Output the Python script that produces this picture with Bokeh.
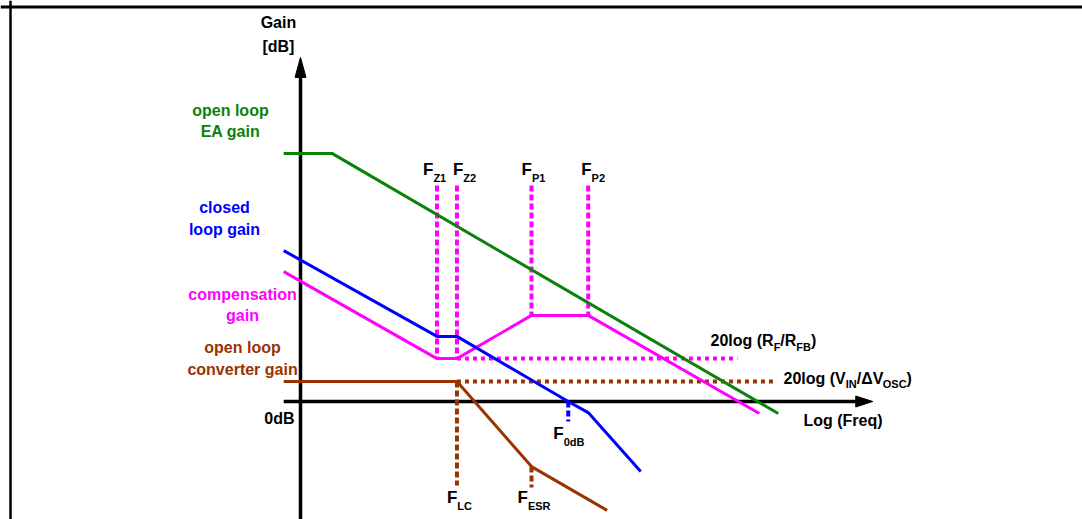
from bokeh.plotting import figure
from bokeh.models import Range1d, Span, Label
from bokeh.embed import file_html
from bokeh.resources import INLINE

# ---------------- chart values: log10(frequency) [decades], gain [dB] ----------------
# open loop error-amplifier gain
ea_f = [-0.16, 0.30, 4.55]
ea_db = [82.7, 82.7, -4.0]
# closed loop gain
cl_f = [-0.16, 1.30, 1.49, 2.55, 2.74, 3.24]
cl_db = [50.3, 21.7, 21.7, 0.0, -3.7, -23.3]
# compensation gain
comp_f = [-0.16, 1.30, 1.49, 2.20, 2.74, 4.37]
comp_db = [43.3, 14.3, 14.3, 28.7, 28.7, -4.0]
# open loop converter gain
conv_f = [-0.16, 1.49, 2.20, 2.92]
conv_db = [6.7, 6.7, -21.7, -36.3]

# asymptote levels
rf_level_f = [1.49, 4.16]
rf_level_db = 14.3          # 20log(RF/RFB)
vin_level_f = [1.49, 4.50]
vin_level_db = 6.7          # 20log(VIN/dVOSC)

# corner frequencies
comp_marker_f = [1.30, 1.49, 2.20, 2.74]       # FZ1, FZ2, FP1, FP2
comp_marker_bottom = [14.3, 14.3, 28.7, 28.7]
comp_marker_top = 72.0
comp_marker_sub = ["Z1", "Z2", "P1", "P2"]
conv_marker_f = [1.49, 2.20]                    # FLC, FESR
conv_marker_top = [6.7, -21.7]
conv_marker_bottom = [-28.0, -28.7]
conv_marker_sub = ["LC", "ESR"]
f0db = 2.55
f0db_bottom = -6.7

axis_f = [-0.16, 5.45]
axis_db = [-40.0, 114.7]

GREEN = "#0a820a"
BLUE = "#0000ff"
MAGENTA = "#ff00ff"
BROWN = "#993300"
FONT = "Liberation Sans"

# ---------------- layout ----------------
W, H = 1082, 519
PX_DEC = 105.0      # pixels per decade
PX_DB = 3.0         # pixels per dB
OX, OY = 300.0, 401.0   # canvas position of the origin

p = figure(width=W, height=H, output_backend="svg", toolbar_location=None,
           x_range=Range1d(-OX / PX_DEC, (W - OX) / PX_DEC),
           y_range=Range1d((OY - H) / PX_DB, OY / PX_DB),
           min_border=0, outline_line_color=None)
p.axis.visible = False
p.grid.visible = False
p.background_fill_color = "white"
p.border_fill_color = "white"

def dx(px):
    return px / PX_DEC

def dy(px):
    return px / PX_DB

# frame (top and left edges of the figure box)
p.add_layout(Span(location=p.y_range.end - dy(6.5), dimension="width",
                  line_color="black", line_width=3))
p.add_layout(Span(location=p.x_range.start + dx(10), dimension="height",
                  line_color="black", line_width=2.5))

# axes
p.line([axis_f[0], axis_f[1] - dx(10)], [0, 0], line_color="black", line_width=3.5)
p.line([0, 0], [axis_db[0], axis_db[1] - dy(10)], line_color="black", line_width=3.5)
p.patches(xs=[[axis_f[1], axis_f[1] - dx(17), axis_f[1] - dx(17)],
              [0, -dx(5.5), dx(5.5)]],
          ys=[[0, dy(5.5), -dy(5.5)],
              [axis_db[1], axis_db[1] - dy(20), axis_db[1] - dy(20)]],
          fill_color="black", line_color="black")

# dashed marker lines
p.segment(x0=comp_marker_f, y0=[comp_marker_top] * 4, x1=comp_marker_f, y1=comp_marker_bottom,
          line_color=MAGENTA, line_width=4, line_dash="6 3")
p.segment(x0=conv_marker_f, y0=conv_marker_top, x1=conv_marker_f, y1=conv_marker_bottom,
          line_color=BROWN, line_width=4, line_dash="6 3")
p.segment(x0=[f0db], y0=[0], x1=[f0db], y1=[f0db_bottom],
          line_color=BLUE, line_width=4, line_dash="6 3")

# dotted asymptotes
p.line(rf_level_f, [rf_level_db] * 2, line_color=MAGENTA, line_width=4, line_dash="4 4")
p.line(vin_level_f, [vin_level_db] * 2, line_color=BROWN, line_width=4, line_dash="4 4")

# curves
p.line(conv_f, conv_db, line_color=BROWN, line_width=3)
p.line(comp_f, comp_db, line_color=MAGENTA, line_width=3)
p.line(cl_f, cl_db, line_color=BLUE, line_width=3)
p.line(ea_f, ea_db, line_color=GREEN, line_width=3)

# ---------------- texts ----------------
WIDTHS = {' ': 278, '(': 333, ')': 333, '/': 278, '[': 333, ']': 333,
          'A': 722, 'B': 722, 'C': 722, 'E': 667, 'F': 611, 'G': 778, 'I': 278,
          'L': 611, 'N': 722, 'O': 778, 'P': 667, 'R': 722, 'S': 667, 'V': 667,
          'Z': 611, 'a': 556, 'c': 556, 'd': 611, 'e': 556, 'g': 611, 'i': 278,
          'l': 278, 'n': 611, 'o': 611, 'p': 611, 'q': 611, 'r': 389, 's': 556,
          't': 333, 'v': 556, '\u0394': 680}

def text_w(s, size):
    return sum(WIDTHS.get(c, 556) for c in s) * size / 1000.0

def label(x, y, text, size=16, color="black", align="center"):
    p.add_layout(Label(x=x, y=y, text=text, text_font=FONT, text_font_style="bold",
                       text_font_size=f"{size}px", text_color=color,
                       text_align=align, text_baseline="middle"))

def rich(x, y, pieces, color="black"):
    """pieces: (text, size_px, drop_px); x is the left edge."""
    cur = x
    for t, s, d in pieces:
        label(cur, y - dy(d), t, size=s, color=color, align="left")
        cur += dx(text_w(t, s))

# left curve labels
label(-0.667, 97.0, "open loop", color=GREEN)
label(-0.667, 90.0, "EA gain", color=GREEN)
label(-0.724, 64.7, "closed", color=BLUE)
label(-0.724, 57.3, "loop gain", color=BLUE)
label(-0.552, 35.7, "compensation", color=MAGENTA)
label(-0.552, 28.7, "gain", color=MAGENTA)
label(-0.552, 18.0, "open loop", color=BROWN)
label(-0.552, 10.7, "converter gain", color=BROWN)

# axis titles
label(-0.21, 126.3, "Gain")
label(-0.21, 118.3, "[dB]")
label(-0.057, -5.7, "0dB", align="right")
label(4.79, -6.3, "Log (Freq)", align="left")

# level labels
rich(3.905, 20.3, [("20log (R", 16, 0), ("F", 11, 6), ("/R", 16, 0), ("FB", 11, 6), (")", 16, 0)])
rich(4.60, 7.7, [("20log (V", 16, 0), ("IN", 11, 6), ("/\u0394V", 16, 0), ("OSC", 11, 6), (")", 16, 0)])

# corner frequency labels
comp_label_dx = [-14, -4, -10, -7]
for f, sub, ox in zip(comp_marker_f, comp_marker_sub, comp_label_dx):
    rich(f + dx(ox), 77.3, [("F", 17, 0), (sub, 11, 8)])
conv_label_dx = [-10, -14]
for f, sub, ox in zip(conv_marker_f, conv_marker_sub, conv_label_dx):
    rich(f + dx(ox), -32.0, [("F", 17, 0), (sub, 11, 8)])
rich(f0db + dx(-15), -10.7, [("F", 17, 0), ("0dB", 11, 8)])

open("out.html", "w").write(file_html(p, INLINE))
